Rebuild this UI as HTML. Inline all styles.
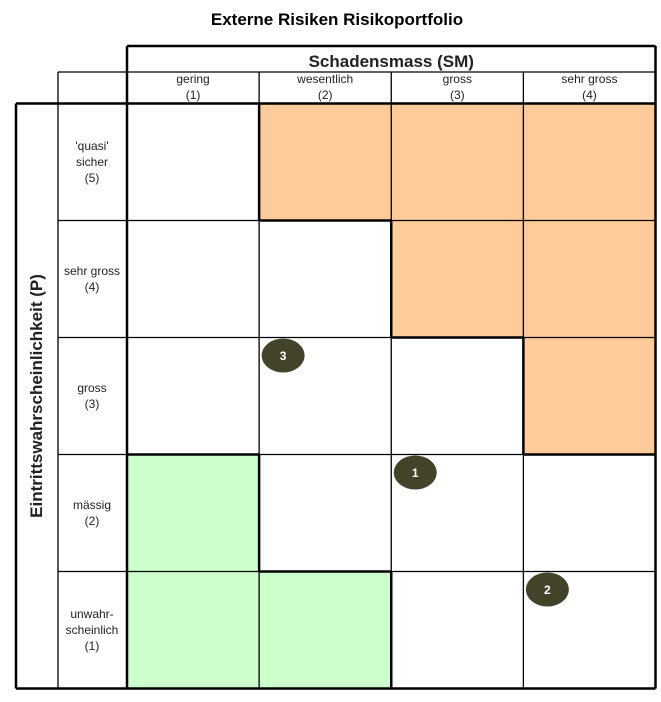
<!DOCTYPE html>
<html><head><meta charset="utf-8"><style>
body{margin:0;background:#fff;}
svg text{font-family:"Liberation Sans",Arial,sans-serif;}
</style></head><body>
<svg width="661" height="697" viewBox="0 0 661 697" xmlns="http://www.w3.org/2000/svg">
<text x="337" y="25" text-anchor="middle" font-size="17" font-weight="bold">Externe Risiken Risikoportfolio</text>
<g id="cells"></g>
<g id="grid"></g>
<g id="labels"></g>
<g id="risks"></g>
</svg>
<script>
const colLabels=["gering","wesentlich","gross","sehr gross"];
const rowLabels=[["'quasi'","sicher","(5)"],["sehr gross","(4)"],["gross","(3)"],["mässig","(2)"],["unwahr-","scheinlich","(1)"]];
const riskIds=[1,2,3];
const riskSM=[3,4,2];
const riskP=[2,1,3];
const zone=[[0,2,2,2],[0,0,2,2],[0,0,0,2],[1,0,0,0],[1,1,0,0]];
const NS="http://www.w3.org/2000/svg";
const X0=127,X1=655.5,Y0=103.5,Y1=688.5,cw=(X1-X0)/4,rh=(Y1-Y0)/5;
function cx(c){return X0+c*cw;} function ry(r){return Y0+r*rh;}
function mk(t,a,p){const e=document.createElementNS(NS,t);for(const k in a)e.setAttribute(k,a[k]);p.appendChild(e);return e;}
const cells=document.getElementById('cells'),grid=document.getElementById('grid'),lab=document.getElementById('labels'),risks=document.getElementById('risks');
const fills=["#ffffff","#ccffcc","#ffcc99"];
for(let r=0;r<5;r++)for(let c=0;c<4;c++){
 const e=mk('rect',{x:cx(c),y:ry(r),width:cw,height:rh,fill:fills[zone[r][c]]},cells);
 
 
}
// thin lines
function ln(x1,y1,x2,y2,w){const e=mk('line',{x1,y1,x2,y2,stroke:'#000','stroke-width':w},grid);}
for(let r=1;r<5;r++)ln(58,ry(r),X1,ry(r),1.3);
for(let c=1;c<4;c++)ln(cx(c),72,cx(c),Y1,1.3);
ln(58,72,X1,72,1.3);ln(58,72,58,Y1,1.3);
// zone borders (thick)
for(let r=0;r<5;r++)for(let c=0;c<4;c++){
 const z=zone[r][c];
 if(c<3&&zone[r][c+1]!==z)ln(cx(c+1),ry(r),cx(c+1),ry(r+1),2.5);
 if(r<4&&zone[r+1][c]!==z)ln(cx(c),ry(r+1),cx(c+1),ry(r+1),2.5);
}
// outer thick
ln(16,Y0,X1,Y0,2.5);ln(16,Y0,16,Y1,2.5);ln(16,Y1,X1,Y1,2.5);ln(X1,46,X1,Y1,2.5);
ln(X0,46,X1,46,2.5);ln(X0,46,X0,Y1,2.5);
function tx(x,y,s,sz,w,name){const e=mk('text',{x,y,'text-anchor':'middle','font-size':sz,fill:'#222'},lab);if(w)e.setAttribute('font-weight','bold');e.textContent=s;return e;}
tx((X0+X1)/2,67,"Schadensmass (SM)",17,true,'x-axis-title');
colLabels.forEach((l,i)=>{tx(cx(i)+cw/2,83,l,12,false,'column-label');tx(cx(i)+cw/2,99,"("+(i+1)+")",12,false,'column-number');});
rowLabels.forEach((ls,i)=>{const mid=ry(i)+rh/2,n=ls.length;ls.forEach((l,j)=>tx(92,mid+4+(j-(n-1)/2)*16,l,12,false,'row-label'));});
const yt=tx(0,0,"Eintrittswahrscheinlichkeit (P)",17,true,'y-axis-title');
yt.setAttribute('transform','translate(42,'+((Y0+Y1)/2)+') rotate(-90)');
riskIds.forEach((id,i)=>{
 const c=riskSM[i]-1,r=5-riskP[i];
 const g=mk('g',{},risks);
 
 
 mk('ellipse',{cx:cx(c)+24,cy:ry(r)+18,rx:21.5,ry:17,fill:'#43432a'},g);
 const t=mk('text',{x:cx(c)+24,y:ry(r)+22.5,'text-anchor':'middle','font-size':12,'font-weight':'bold',fill:'#fff'},g);t.textContent=id;
});
</script>
</body></html>
